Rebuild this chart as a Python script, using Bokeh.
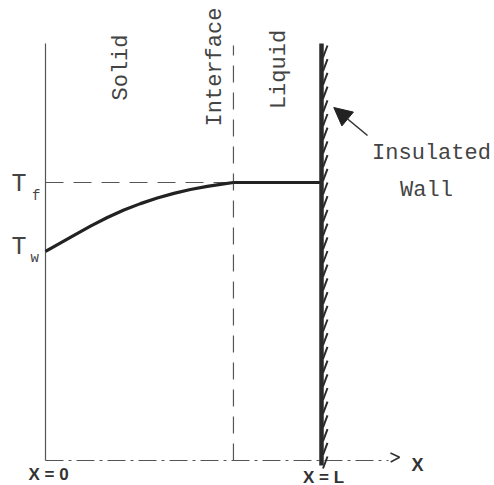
import numpy as np
from bokeh.plotting import figure
from bokeh.models import Range1d, Arrow, NormalHead, OpenHead
from bokeh.core.properties import value
from bokeh.embed import file_html
from bokeh.resources import INLINE

# ---- data (physical units: x / L, T / Tf) ----
L = 1.0            # wall position
s = 0.681          # interface position
Tf = 1.0           # fusion temperature
Tw = 0.752         # wall temperature at x = 0
x_solid = [0.0, 0.042, 0.103, 0.163, 0.224, 0.284, 0.344, 0.405, 0.465, 0.525, 0.586, 0.634, 0.681]
T_solid = [0.752, 0.776, 0.810, 0.843, 0.874, 0.901, 0.924, 0.944, 0.961, 0.975, 0.986, 0.993, 1.0]
x_liquid = [s, L]
T_liquid = [Tf, Tf]
region_labels = ["Solid", "Interface", "Liquid"]
wall_label = ["Insulated", "Wall"]
x_tick_labels = ["X = 0", "X = L"]

# ---- figure ----
PX = 276.0   # pixels per unit x
PY = 278.0   # pixels per unit T
p = figure(width=494, height=485, output_backend="svg", toolbar_location=None,
           x_range=Range1d(-45 / PX, 449 / PX), y_range=Range1d(-25 / PY, 460 / PY),
           min_border=0)
p.xaxis.visible = False
p.yaxis.visible = False
p.grid.visible = False
p.outline_line_color = None
p.background_fill_color = "white"
p.border_fill_color = "white"

def dx(px):
    return px / PX

def dy(py):
    return py / PY

top = 1.5
mono = value("Liberation Mono")
sans = value("Liberation Sans")

# vertical axis (T)
p.line([0, 0], [0, top], line_color="#555555", line_width=1.2)
# horizontal axis (x), dash-dot
x_axis_end = 1.243
p.line([0, x_axis_end], [0, 0], line_color="#555555", line_width=1.2, line_dash="18 5 3 5")
p.add_layout(Arrow(end=OpenHead(size=9, line_color="#333333", line_width=1.6),
                   x_start=x_axis_end, y_start=dy(3), x_end=x_axis_end + dx(11), y_end=dy(3.3),
                   line_alpha=0))

# Tf dashed line
p.line([0, L], [Tf, Tf], line_color="#555555", line_width=1.2, line_dash="18 10")
# interface dashed line
p.line([s, s], [0, dy(415)], line_color="#555555", line_width=1.2, line_dash="17 10")

# temperature profile
p.line(x_solid, T_solid, line_color="#222222", line_width=3.2)
p.line(x_liquid, T_liquid, line_color="#222222", line_width=3.2)

# wall
p.line([L, L], [dy(-5), top], line_color="#2a2a2a", line_width=4.5)
centers = np.arange(dy(-2), top + dy(3), dy(13.7))
xs = [[L + dx(1.5), L + dx(6)] for c in centers]
ys = [[c - dy(6), c + dy(6)] for c in centers]
p.multi_line(xs, ys, line_color="#2a2a2a", line_width=2)

# arrow to wall
p.add_layout(Arrow(end=NormalHead(size=18, fill_color="#222222", line_color="#222222"),
                   x_start=L + dx(46), y_start=Tf + dy(47), x_end=L + dx(12.3), y_end=Tf + dy(75),
                   line_color="#333333", line_width=1.6))

# rotated region labels
p.text(x=[dx(75.5), dx(169.5), dx(233.5)], y=[dy(393), dy(393.5), dy(391)], text=region_labels,
       angle=np.pi / 2, text_align="center", text_baseline="alphabetic",
       text_font=mono, text_font_size="22px", text_color="#444444")

# insulated wall label
p.text(x=[dx(386), dx(381)], y=[dy(307), dy(270)], text=wall_label,
       text_align="center", text_baseline="alphabetic",
       text_font=mono, text_font_size="22px", text_color="#444444")

# T labels
p.text(x=[dx(-34), dx(-34)], y=[dy(276.5), dy(213)], text=["T", "T"],
       text_align="left", text_baseline="alphabetic",
       text_font=mono, text_font_size="25px", text_color="#444444")
p.text(x=[dx(-13.5), dx(-15)], y=[dy(265), dy(203)], text=["f", "w"],
       text_align="left", text_baseline="alphabetic",
       text_font=mono, text_font_size="14px", text_color="#444444")

# x labels
p.text(x=[0.0 + dx(3), L + dx(2)], y=[dy(-14), dy(-16.5)], text=x_tick_labels,
       text_align="center", text_baseline="alphabetic",
       text_font=sans, text_font_size="17px", text_font_style="bold", text_color="#333333")
p.text(x=[x_axis_end + dx(29)], y=[dy(-4)], text=["X"],
       text_align="center", text_baseline="alphabetic",
       text_font=sans, text_font_size="18px", text_font_style="bold", text_color="#333333")

open("out.html", "w").write(file_html(p, INLINE))
